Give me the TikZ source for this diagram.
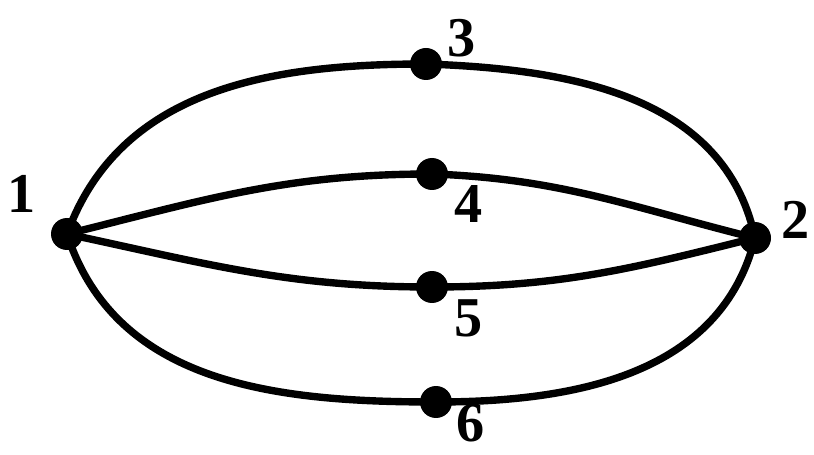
\documentclass[tikz,border=0pt]{standalone}
\usepackage{fontspec}
\setmainfont{Liberation Serif}
\usetikzlibrary{positioning}
\tikzset{
  vtx/.style={circle,fill=black,inner sep=0pt,minimum size=0.64cm},
  lbl/.style={inner sep=0pt,font=\fontsize{32}{38}\selectfont\bfseries},
  edge/.style={line width=4.2pt}
}
\begin{document}
\begin{tikzpicture}[x=0.02cm,y=-0.02cm]
        \useasboundingbox (0,0) rectangle (814,455);
        % vertices
        \node[vtx] (v1) at (67,234) {};
        \node[vtx] (v2) at (755,238) {};
        \node[vtx] (v3) at (426,64) {};
        \node[vtx] (v4) at (432,174) {};
        \node[vtx] (v5) at (432,287) {};
        \node[vtx] (v6) at (436,402) {};
        % numbers
        \node[lbl] (n1) at (22,194) {1};
        \node[lbl] (n2) at (796,220) {2};
        \node[lbl] (n3) at (462,38) {3};
        \node[lbl] (n4) at (469,204) {4};
        \node[lbl] (n5) at (469,318) {5};
        \node[lbl] (n6) at (471,423) {6};
        % outer arcs
        \draw[edge] (v1.center) to[out=70,in=180] (v3.center)
                    to[out=-2,in=102] (v2.center);
        \draw[edge] (v1.center) to[out=-72,in=180] (v6.center)
                    to[out=0,in=-104] (v2.center);
        % inner arcs
        \draw[edge] (v1.center) to[out=14,in=180] (v4.center)
                    to[out=-2,in=166] (v2.center);
        \draw[edge] (v1.center) to[out=-12,in=180] (v5.center)
                    to[out=0,in=-166] (v2.center);
\end{tikzpicture}
\end{document}
